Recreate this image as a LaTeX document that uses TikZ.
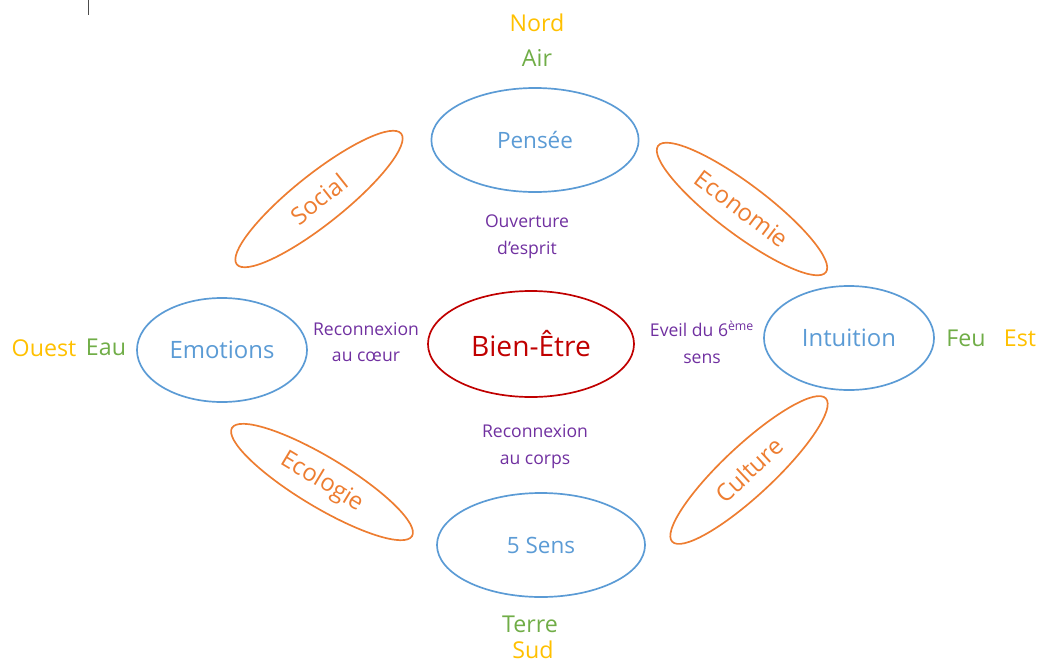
\documentclass[tikz,border=0pt]{standalone}
\usepackage{fontspec}
\setmainfont{Open Sans}
\usepackage{tikz}
\usetikzlibrary{shapes.geometric}
\usepackage{xcolor}

\definecolor{bleu}{HTML}{5B9BD5}
\definecolor{orange}{HTML}{ED7D31}
\definecolor{rouge}{HTML}{C00000}
\definecolor{violet}{HTML}{7030A0}
\definecolor{jaune}{HTML}{FFC000}
\definecolor{vert}{HTML}{70AD47}

\begin{document}
\begin{tikzpicture}[x=0.025cm, y=-0.025cm,
        pole/.style={ellipse, draw=bleu, line width=1.2pt, text=bleu, minimum width=4.25cm, minimum height=2.6cm, inner sep=0pt, font=\fontsize{17}{20}\selectfont},
        centre/.style={ellipse, draw=rouge, line width=1.2pt, text=rouge, minimum width=5.15cm, minimum height=2.65cm, inner sep=0pt, font=\fontsize{20}{24}\selectfont},
        domaine/.style={ellipse, draw=orange, line width=1.2pt, text=orange, minimum width=5.25cm, minimum height=1.25cm, inner sep=0pt, font=\fontsize{17}{20}\selectfont},
        lien/.style={text=violet, align=center, font=\fontsize{12.5}{19}\selectfont},
        direction/.style={text=jaune, font=\fontsize{16.5}{20}\selectfont},
        element/.style={text=vert, font=\fontsize{16.5}{20}\selectfont}
    ]

    % fixed page size
    \useasboundingbox (0,0) rectangle (1041,666);

    % cursor mark
    \draw[black!70, line width=0.6pt] (88,0) -- (88,15);

    % central ellipse
    \node[centre] (bienetre) at (531,344) {Bien-Être};

    % the four poles
    \node[pole, minimum width=5.18cm, font=\fontsize{16}{20}\selectfont] (pensee) at (535,140) {Pensée};
    \node[pole] (emotions) at (222,350) {Emotions};
    \node[pole] (intuition) at (849,338) {Intuition};
    \node[pole, minimum width=5.2cm, font=\fontsize{16}{20}\selectfont] (sens) at (541,545) {5 Sens};

    % domains in between
    \node[domaine, rotate=38.5] (social) at (319,199) {Social};
    \node[domaine, rotate=-37] (economie) at (742,209) {Economie};
    \node[domaine, rotate=-31] (ecologie) at (322,482) {Ecologie};
    \node[domaine, rotate=43] (culture) at (749,470) {Culture};

    % links to the centre
    \node[lien] (ouverture) at (527,237) {Ouverture\\d’esprit};
    \node[lien] (coeur) at (366,342) {Reconnexion\\au cœur};
    \node[lien] (eveil) at (702,342) {Eveil du 6\textsuperscript{ème}\\sens};
    \node[lien] (corps) at (535,447) {Reconnexion\\au corps};

    % directions and elements
    \node[direction] (nord) at (537,23) {Nord};
    \node[element] (air) at (537,58) {Air};
    \node[direction] (ouest) at (44,348) {Ouest};
    \node[element] (eau) at (106,347) {Eau};
    \node[element] (feu) at (966,338) {Feu};
    \node[direction] (est) at (1020,338) {Est};
    \node[element] (terre) at (530,624) {Terre};
    \node[direction] (sud) at (533,650) {Sud};

\end{tikzpicture}
\end{document}
